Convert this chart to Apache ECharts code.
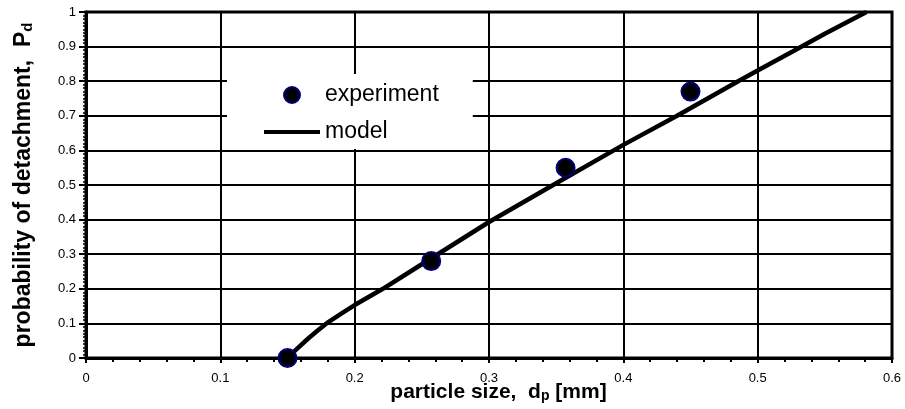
<!DOCTYPE html>
<html>
<head>
<meta charset="utf-8">
<script src="https://cdn.jsdelivr.net/npm/echarts@6/dist/echarts.min.js"></script>
<style>
html,body{margin:0;padding:0;background:#fff;}
#chart{width:905px;height:409px;}
</style>
</head>
<body>
<div id="chart"></div>
<script>
const xAxisName = 'particle size,  d';
const xAxisSub = 'p';
const xAxisUnit = ' [mm]';
const yAxisName = 'probability of detachment,  P';
const yAxisSub = 'd';
const seriesNames = ['experiment', 'model'];

const expX = [0.15, 0.257, 0.357, 0.45];
const expY = [0, 0.28, 0.55, 0.77];

const modelX = [0.15, 0.153, 0.158, 0.165, 0.172, 0.179, 0.19, 0.2, 0.221, 0.25, 0.3, 0.35, 0.4, 0.44, 0.4855, 0.5, 0.526, 0.55, 0.581];
const modelY = [0, 0.012, 0.03, 0.055, 0.078, 0.1, 0.128, 0.153, 0.2, 0.271, 0.393, 0.505, 0.616, 0.7, 0.8, 0.831, 0.886, 0.937, 1.0];

const expData = expX.map((x, i) => [x, expY[i]]);
const modelData = modelX.map((x, i) => [x, modelY[i]]);

const FONT = 'Arial, "Liberation Sans", sans-serif';
const chart = echarts.init(document.getElementById('chart'), null, {renderer: 'canvas'});

chart.setOption({
  animation: false,
  backgroundColor: '#ffffff',
  textStyle: {fontFamily: FONT, color: '#000'},
  grid: {left: 86, right: 13, top: 12, bottom: 51, show: true, borderColor: '#000', borderWidth: 3, containLabel: false, outerBoundsMode: 'none'},
  legend: {
    orient: 'vertical',
    left: 227,
    top: 74,
    padding: [7, 34, 3, 35],
    backgroundColor: '#ffffff',
    itemWidth: 56,
    itemHeight: 16,
    itemGap: 9,
    textStyle: {fontFamily: FONT, fontSize: 23, color: '#000', lineHeight: 28},
    data: [
      {name: seriesNames[0], icon: 'circle'},
      {name: seriesNames[1], itemStyle: {opacity: 0}, lineStyle: {width: 4, color: '#000'}}
    ]
  },
  xAxis: {
    type: 'value',
    min: 0, max: 0.6, interval: 0.1,
    name: '{a|' + xAxisName + '}{s|' + xAxisSub + '}{a|' + xAxisUnit + '}',
    nameLocation: 'middle',
    nameGap: 19,
    nameMoveOverlap: false,
    nameTextStyle: {
      padding: [0, 0, 0, 19],
      rich: {
        a: {fontFamily: FONT, fontSize: 21, fontWeight: 'bold', color: '#000', lineHeight: 26, verticalAlign: 'bottom'},
        s: {fontFamily: FONT, fontSize: 14, fontWeight: 'bold', color: '#000', lineHeight: 14, verticalAlign: 'bottom'}
      }
    },
    axisLine: {show: true, onZero: false, lineStyle: {color: '#000', width: 3}},
    axisTick: {show: true, inside: false, length: 5, lineStyle: {color: '#000', width: 2}},
    minorTick: {show: true, splitNumber: 5, length: 4, lineStyle: {color: '#000', width: 2}},
    axisLabel: {fontFamily: FONT, fontSize: 13, color: '#000', margin: 14},
    splitLine: {show: true, lineStyle: {color: '#000', width: 2}}
  },
  yAxis: {
    type: 'value',
    min: 0, max: 1, interval: 0.1,
    name: '{a|' + yAxisName + '}{s|' + yAxisSub + '}',
    nameLocation: 'middle',
    nameGap: 51,
    nameMoveOverlap: false,
    nameTextStyle: {
      rich: {
        a: {fontFamily: FONT, fontSize: 23, fontWeight: 'bold', color: '#000', lineHeight: 27, verticalAlign: 'bottom'},
        s: {fontFamily: FONT, fontSize: 15, fontWeight: 'bold', color: '#000', lineHeight: 15, verticalAlign: 'bottom'}
      }
    },
    axisLine: {show: true, onZero: false, lineStyle: {color: '#000', width: 3}},
    axisTick: {show: true, inside: false, length: 7, lineStyle: {color: '#000', width: 2}},
    minorTick: {show: true, splitNumber: 10, length: 3, lineStyle: {color: '#000', width: 1.5}},
    axisLabel: {fontFamily: FONT, fontSize: 13, color: '#000', margin: 10},
    splitLine: {show: true, lineStyle: {color: '#000', width: 2}}
  },
  series: [
    {
      name: seriesNames[1],
      type: 'line',
      data: modelData,
      symbol: 'none',
      smooth: false,
      lineStyle: {color: '#000', width: 4.5},
      itemStyle: {color: '#000'},
      z: 3
    },
    {
      name: seriesNames[0],
      type: 'scatter',
      data: expData,
      symbol: 'circle',
      symbolSize: 18,
      itemStyle: {color: '#000', borderColor: '#000080', borderWidth: 2, opacity: 1},
      z: 5
    }
  ]
});
</script>
</body>
</html>
